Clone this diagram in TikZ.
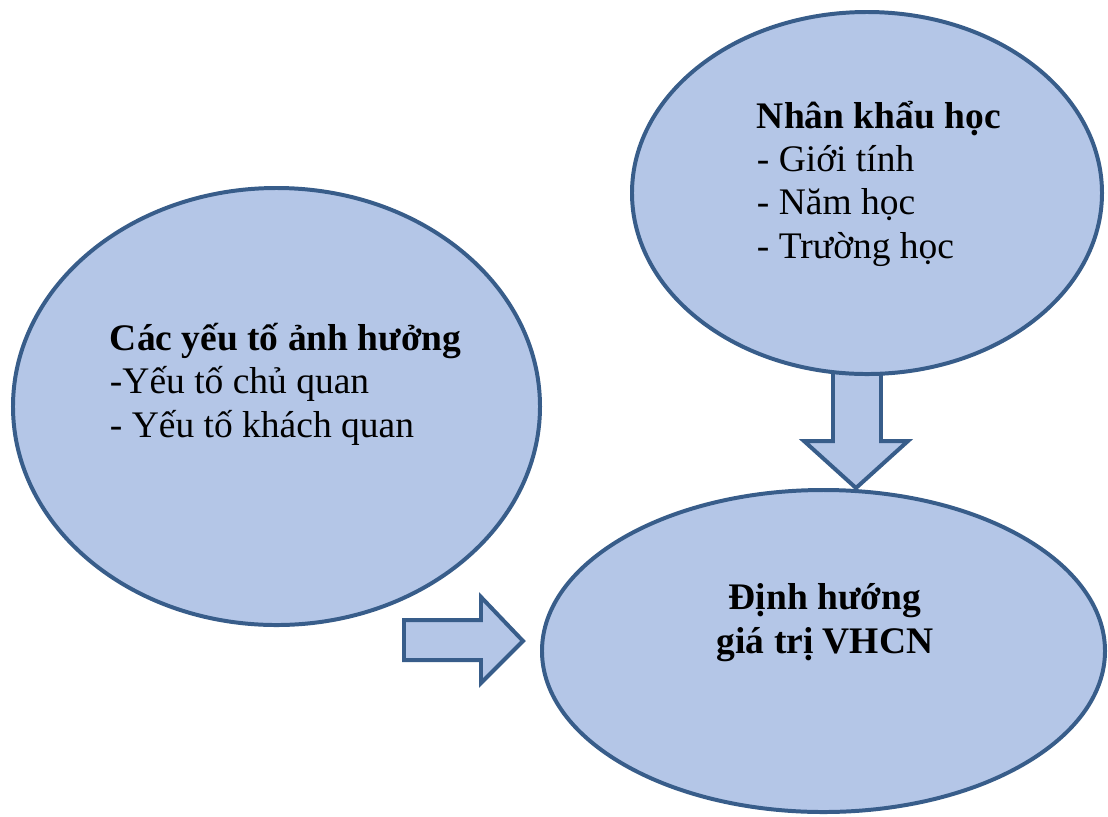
\documentclass[tikz,border=0pt]{standalone}
\usepackage{fontspec}
\setmainfont{Liberation Serif}
\usepackage{xcolor}
\usetikzlibrary{shapes.geometric}
\definecolor{blobfill}{HTML}{B4C6E7}
\definecolor{blobline}{HTML}{385D8A}

\begin{document}
\begin{tikzpicture}[x=0.015cm,y=-0.015cm,line width=1.7pt,
   blob/.style={ellipse,draw=blobline,fill=blobfill,inner sep=0pt},
   fat/.style={draw=blobline,fill=blobfill,line join=miter},
   txt/.style={inner sep=0pt,align=left,font=\fontsize{16pt}{18.4pt}\selectfont}]
   \useasboundingbox (0,0) rectangle (1108,816);
   % tips of the two block arrows
   \coordinate (tipD) at (856,488);
   \coordinate (tipR) at (523,641);
   \draw[fat] (tipD) -- ++(52,-47) -- ++(-27,0) -- ++(0,-90) -- ++(-48,0) -- ++(0,90) -- ++(-29,0) -- cycle;
   \draw[fat] (tipR) -- ++(-42,-44) -- ++(0,23) -- ++(-77,0) -- ++(0,40) -- ++(77,0) -- ++(0,23) -- cycle;
   \node[blob,minimum width=7.05cm,minimum height=5.43cm] (NK) at (867,193) {};
   \node[blob,minimum width=7.905cm,minimum height=6.555cm] (YT) at (276.5,406.5) {};
   \node[blob,minimum width=8.445cm,minimum height=4.83cm] (DH) at (823.5,651) {};
   % base = last line
   \node[txt,anchor=base west] (NKt) at (755,258)
      {\textbf{Nhân khẩu học}\\- Giới tính\\- Năm học\\- Trường học};
   \node[txt,anchor=base west] (YTt) at (108,437)
      {\textbf{Các yếu tố ảnh hưởng}\\-Yếu tố chủ quan\\- Yếu tố khách quan};
   \node[txt,align=center,anchor=base] (DHt) at (825,653)
      {\textbf{Định hướng}\\\textbf{giá trị VHCN}};
\end{tikzpicture}
\end{document}
